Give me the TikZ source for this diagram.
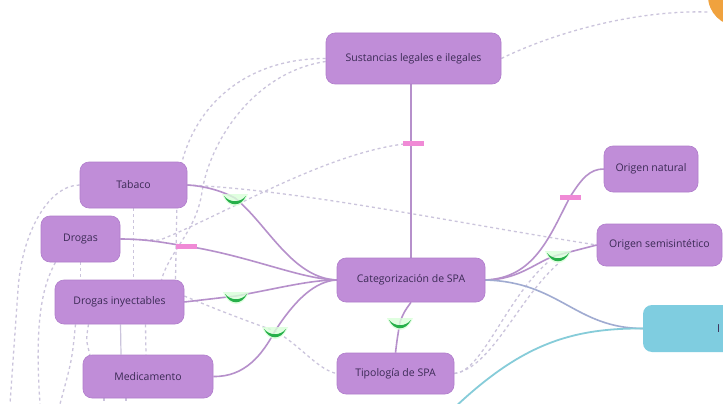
\documentclass[tikz,border=0pt]{standalone}
\usepackage{fontspec}
\setmainfont{Open Sans}
\definecolor{boxfill}{HTML}{C08DD8}
\definecolor{boxedge}{HTML}{B07DCB}
\definecolor{boxtext}{HTML}{3B2A55}
\definecolor{linkc}{HTML}{B690CB}
\definecolor{dashc}{HTML}{CBC4DC}
\definecolor{pinkm}{HTML}{F08AD6}
\definecolor{greenm}{HTML}{27B04A}
\definecolor{bluefill}{HTML}{7FCDE0}
\definecolor{tealc}{HTML}{86CCD9}
\definecolor{orangec}{HTML}{F0A23E}
\pgfdeclarelayer{bg}
\pgfdeclarelayer{paper}
\pgfsetlayers{paper,bg,main}
\begin{document}
\begin{tikzpicture}[x=1pt,y=-1pt,
  box/.style={draw=boxedge, line width=0.6pt, fill=boxfill, rounded corners=9pt,
    text=boxtext, font=\fontsize{10.5}{12}\selectfont, inner sep=0pt},
  link/.style={draw=linkc, line width=1.6pt},
  dashl/.style={draw=dashc, line width=1.3pt, dash pattern=on 3pt off 3pt},
  pinkdash/.style={fill=pinkm, draw=none, minimum width=21pt, minimum height=5pt, inner sep=0pt},
  smilemk/.pic={
    \fill[green!15!white, opacity=0.8] (-13,-4) .. controls (-7,12) and (7,12) .. (13,-4) -- cycle;
    \fill[greenm] (-11,-2) .. controls (-5,5) and (5,5) .. (11,-2)
       .. controls (6,9) and (-6,9) .. cycle;
  }]
\useasboundingbox (0,0) rectangle (723,404);
\begin{pgfonlayer}{paper}
\fill[white] (0,0) rectangle (723,404);
\end{pgfonlayer}

% orange circle
\fill[orangec] (738,-4) circle (30);

% nodes
\node[box, minimum width=175pt, minimum height=51pt] (sus) at (413.5,58.5) {Sustancias legales e ilegales};
\node[box, minimum width=107pt, minimum height=46pt] (tab) at (133.5,185) {Tabaco};
\node[box, minimum width=79pt, minimum height=46pt] (dro) at (80.5,239) {Drogas};
\node[box, minimum width=129pt, minimum height=44pt] (iny) at (119.5,302) {Drogas inyectables};
\node[box, minimum width=130pt, minimum height=43pt] (med) at (148,376.5) {Medicamento};
\node[box, minimum width=148pt, minimum height=44pt] (cat) at (411,280) {Categorización de SPA};
\node[box, minimum width=117pt, minimum height=41pt] (tip) at (395.5,373.5) {Tipología de SPA};
\node[box, minimum width=94pt, minimum height=46pt] (nat) at (651,169) {Origen natural};
\node[box, minimum width=125pt, minimum height=42pt] (sem) at (659.5,245) {Origen semisintético};
\node[fill=bluefill, draw=none, rounded corners=9pt, minimum width=120pt, minimum height=47pt, inner sep=0pt] (blu) at (703,328.5) {};
\node[anchor=west, text=boxtext, font=\fontsize{11}{13}\selectfont, inner sep=0pt] (blutxt) at (717,328.5) {I};

% marker positions
\coordinate (p1) at (413,143);
\coordinate (p2) at (186,246);
\coordinate (p3) at (570,197);
\coordinate (s1) at (235,198);
\coordinate (s2) at (236,296);
\coordinate (s3) at (275,331);
\coordinate (s4) at (400,322);
\coordinate (s5) at (558,255);
\coordinate (tealend) at (452,410);
\coordinate (orgend) at (708,12);
\coordinate (lb1) at (10,404);
\coordinate (lb2) at (60,404);
\coordinate (lb3) at (104,404);
\coordinate (lb4) at (126,404);
\coordinate (lb5) at (40,404);

\begin{pgfonlayer}{bg}
% dashed connectors
\draw[dashl] (sus.west) .. controls (235,58) and (178,120) .. (177,200) -- ([xshift=56pt]iny.north);
\draw[dashl] ([yshift=-3pt]sus.west) .. controls (255,72) and (210,140) .. (202,192)
   .. controls (196,232) and (170,250) .. ([xshift=42pt]iny.north);
\draw[dashl] (tab.east) .. controls (300,190) and (450,222) .. (sem.west);
\draw[dashl] (dro.east) -- (160,240) .. controls (230,212) and (330,150) .. (p1);
\draw[dashl] ([yshift=6pt]iny.east) .. controls (225,313) and (250,322) .. (s3)
   .. controls (300,345) and (318,370) .. (tip.west);
\draw[dashl] (tip.east) .. controls (482,372) and (505,300) .. (548,262);
\draw[dashl] (tip.east) .. controls (492,368) and (518,298) .. (560,262);
\draw[dashl] (sus.east) .. controls (560,30) and (640,10) .. (orgend);
\draw[dashl] (tab.west) .. controls (50,185) and (22,230) .. (18,290) -- (lb1);
\draw[dashl] (tab.south) -- (tab.south |- iny.north);
\draw[dashl] (dro.south) -- (dro.south |- iny.north);
\draw[dashl] ([xshift=-25pt]dro.south) .. controls (40,290) and (35,330) .. (lb5);
\draw[dashl] ([xshift=-44pt]iny.south) .. controls (72,360) .. (lb2);
\draw[dashl] ([xshift=-31pt]iny.south) .. controls (86,340) .. (90,355);
\draw[draw=dashc, line width=1.2pt] ([xshift=1pt]iny.south) -- ([xshift=-27pt]med.north);
\draw[dashl] ([xshift=26pt]iny.south) -- ([xshift=-2pt]med.north);
\draw[dashl] ([xshift=-44pt]med.south) -- (lb3);
\draw[dashl] ([xshift=-22pt]med.south) -- (lb4);

% solid connectors
\draw[link] (cat.north) -- (cat.north |- sus.south);
\draw[link] (tab.east) .. controls (205,186) and (222,191) .. (s1)
   .. controls (268,225) and (292,278) .. (cat.west);
\draw[link] (dro.east) .. controls (150,239) and (170,244) .. (p2)
   .. controls (250,256) and (300,279) .. (cat.west);
\draw[link] (iny.east) -- (s2) .. controls (280,288) and (310,280) .. (cat.west);
\draw[link] (med.east) .. controls (245,377) and (262,355) .. (s3)
   .. controls (295,300) and (315,281) .. (cat.west);
\draw[link] (tip.north) .. controls (397,340) .. (s4) .. controls (404,312) .. (cat.south);
\draw[link] (cat.east) .. controls (535,278) and (550,235) .. (p3)
   .. controls (582,178) and (590,169) .. (nat.west);
\draw[link] (cat.east) .. controls (520,280) and (538,260) .. (s5) -- (sem.west);
\draw[draw=linkc!55!tealc, line width=1.6pt] (cat.east) .. controls (560,282) and (575,328) .. (blu.west);
\draw[draw=tealc, line width=1.8pt] (tealend) .. controls (520,345) and (570,328) .. (blu.west);
\end{pgfonlayer}

% markers
\node[pinkdash] (pm1) at (p1) {};
\node[pinkdash] (pm2) at (p2) {};
\node[pinkdash] (pm3) at (p3) {};
\pic at (s1) {smilemk};
\pic at (s2) {smilemk};
\pic at (s3) {smilemk};
\pic at (s4) {smilemk};
\pic at (s5) {smilemk};
\end{tikzpicture}
\end{document}
